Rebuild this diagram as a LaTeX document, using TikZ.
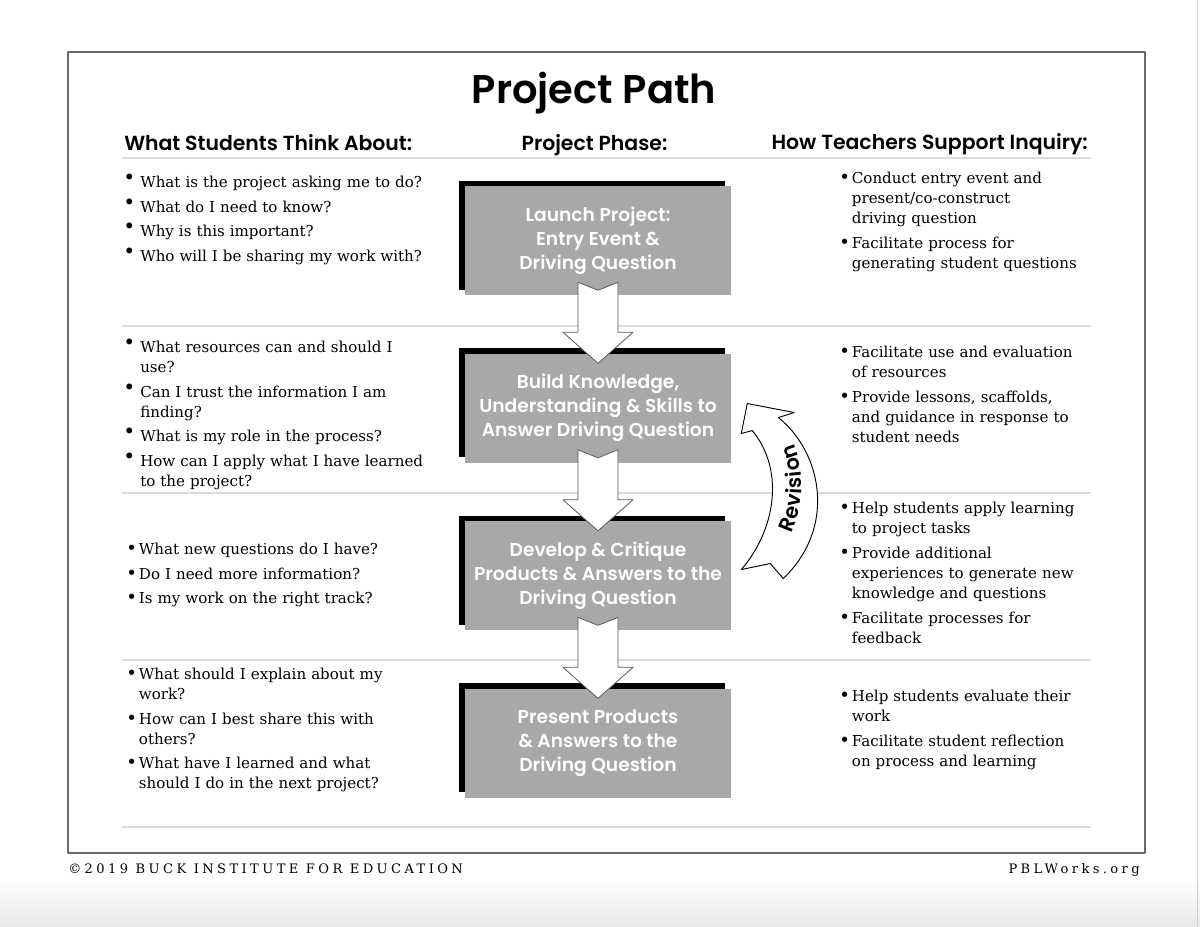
\documentclass[tikz,border=0pt]{standalone}
\usepackage{fontspec}
\setmainfont{DejaVu Serif}
\setsansfont{Poppins}[BoldFont={Poppins SemiBold}]
\usetikzlibrary{positioning,shadows,calc,decorations.text}
\definecolor{boxgray}{HTML}{A7A8AA}
\definecolor{rulegray}{HTML}{DCDCDC}
\definecolor{framegray}{HTML}{6A6A6A}
\newcommand{\hiitem}[1]{\hangindent=12.75pt\hangafter=1\noindent\makebox[12.75pt][l]{\raisebox{0.2em}{\scalebox{1.35}{\textbullet}}}{\let\\\newline#1}\par}
\newcommand{\qitem}[1]{\hangindent=9.5pt\hangafter=1\noindent\makebox[9.5pt][l]{\scalebox{1.2}{\textbullet}}{\let\\\newline#1}\par}
\begin{document}
\begin{tikzpicture}[x=0.75pt,y=-0.75pt,line join=round,line cap=round,
    phase/.style={fill=boxgray,text=white,font=\sffamily\bfseries\fontsize{14pt}{18pt}\selectfont,
      align=center,minimum width=199.5pt,minimum height=81.75pt,inner sep=0pt,
      drop shadow={shadow xshift=-4.5pt,shadow yshift=4pt,fill=black,opacity=1}},
    head/.style={font=\sffamily\bfseries\fontsize{15.3pt}{18pt}\selectfont,inner sep=0pt},
    qlist/.style={anchor=north west,inner sep=0pt,align=left,text width=260pt,
      font=\fontsize{11.3pt}{15pt}\selectfont,execute at begin node={\setlength{\parskip}{3.6pt}}},
    rule/.style={rulegray,line width=2.2pt,line cap=butt},
    blockarrow/.style={fill=white,draw=black!65,line width=0.6pt},
    footer/.style={font=\fontsize{9.8pt}{12pt}\selectfont\addfontfeature{LetterSpace=26},inner sep=0pt},
    node distance=43.5pt]
\useasboundingbox (0,0) rectangle (1200,926);
\shade[top color=white,bottom color=black!9] (0,878) rectangle (1200,926);
\draw[black!18,line width=0.6pt] (1197,0) -- (1197,926);
\draw[framegray,line width=1.1pt] (68,52) rectangle (1145,853);
\node[font=\sffamily\bfseries\fontsize{30pt}{32pt}\selectfont,anchor=base,inner sep=0pt] (title) at (594,103) {Project Path};
\node[head,anchor=base west] (students) at (124,150) {What Students Think About:};
\node[head,anchor=base] (phases) at (594.5,150) {Project Phase:};
\node[head,anchor=base east] (teachers) at (1088,149) {How Teachers Support Inquiry:};
\foreach \y in {158,326,493,660,827}
  \draw[rule] (122,\y) -- (1091,\y);
\node[phase] (launch) at (598,240.5) {Launch Project:\\Entry Event \&\\Driving Question};
\node[phase,below=of launch] (build) {Build Knowledge,\\Understanding \& Skills to\\Answer Driving Question};
\node[phase,below=of build] (develop) {Develop \& Critique\\Products \& Answers to the\\Driving Question};
\node[phase,below=of develop] (present) {Present Products\\\& Answers to the\\Driving Question};
\foreach \a/\b in {launch/build,build/develop,develop/present}
  \draw[blockarrow] ($(\a.south)+(-20,-13)$) -- ($(\a.south)+(0,-5)$) -- ($(\a.south)+(20,-13)$)
    -- ($(\a.south)+(20,37)$) -- ($(\a.south)+(35,37)$) -- ($(\b.north)+(0,10)$)
    -- ($(\a.south)+(-35,37)$) -- ($(\a.south)+(-20,37)$) -- cycle;
\begin{scope}[shift={(build.east)}]
  \draw[blockarrow,draw=black,line width=0.7pt] (16,-4.5) -- (63,4.5) -- (47,9.5)
    .. controls (89,42.5) and (107,117.5) .. (52,170.5) -- (39,155.5) -- (10,161.5)
    .. controls (44,122.5) and (54,62.5) .. (21,22.5) -- (10,25.5) -- cycle;
  \path[decorate,decoration={text along path,text align=center,raise=-5.5pt,
      text={|\sffamily\bfseries\fontsize{15.5pt}{18pt}\selectfont|Revision}}]
    (31,154) .. controls (75.5,110) and (71.5,42.5) .. (34,6);
\end{scope}
\node[qlist] (sq1) at (123,173.5) {%
  \hiitem{What is the project asking me to do?}
  \hiitem{What do I need to know?}
  \hiitem{Why is this important?}
  \hiitem{Who will I be sharing my work with?}};
\node[qlist] (sq2) at (123,338.5) {%
  \hiitem{What resources can and should I\\use?}
  \hiitem{Can I trust the information I am\\finding?}
  \hiitem{What is my role in the process?}
  \hiitem{How can I apply what I have learned\\to the project?}};
\node[qlist] (sq3) at (126,542.5) {%
  \qitem{What new questions do I have?}
  \qitem{Do I need more information?}
  \qitem{Is my work on the right track?}};
\node[qlist] (sq4) at (126,667.5) {%
  \qitem{What should I explain about my\\work?}
  \qitem{How can I best share this with\\others?}
  \qitem{What have I learned and what\\should I do in the next project?}};
\node[qlist] (tq1) at (839,172) {%
  \qitem{Conduct entry event and\\present/co-construct\\driving question}
  \qitem{Facilitate process for\\generating student questions}};
\node[qlist] (tq2) at (839,346) {%
  \qitem{Facilitate use and evaluation\\of resources}
  \qitem{Provide lessons, scaffolds,\\and guidance in response to\\student needs}};
\node[qlist] (tq3) at (839,502) {%
  \qitem{Help students apply learning\\to project tasks}
  \qitem{Provide additional\\experiences to generate new\\knowledge and questions}
  \qitem{Facilitate processes for\\feedback}};
\node[qlist] (tq4) at (839,690) {%
  \qitem{Help students evaluate their\\work}
  \qitem{Facilitate student reflection\\on process and learning}};
\node[footer,anchor=base west] (copyright) at (68,873) {©2019 BUCK INSTITUTE FOR EDUCATION};
\node[footer,anchor=base east] (website) at (1140,873) {PBLWorks.org};
\end{tikzpicture}
\end{document}
